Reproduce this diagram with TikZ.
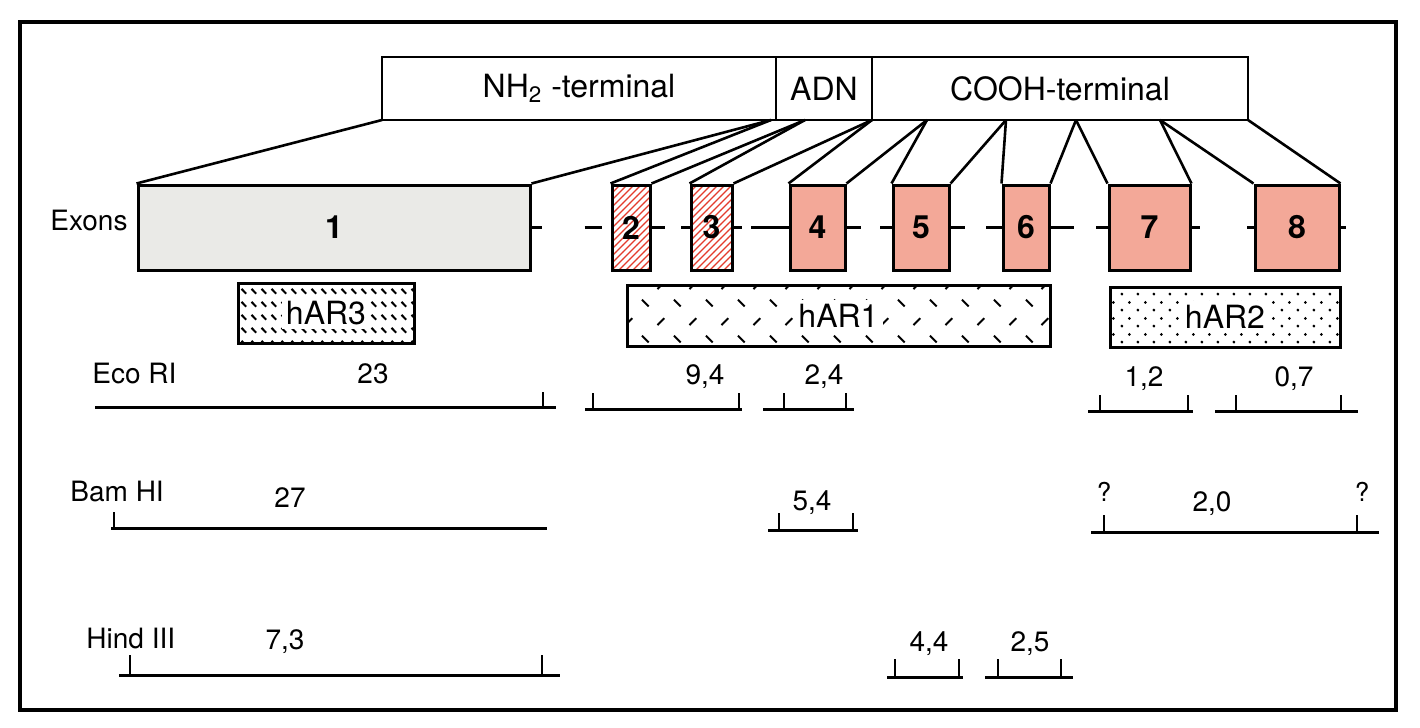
\documentclass[tikz,border=0pt]{standalone}
\usepackage{fontspec}
\setmainfont{TeX Gyre Heros}
\usepackage{tikz}
\usetikzlibrary{positioning, patterns}

\definecolor{exonred}{RGB}{243,168,152}
\definecolor{exongrey}{RGB}{234,234,231}
\definecolor{hatchred}{RGB}{228,60,45}

\pgfdeclarepatternformonly{exonhatch}{\pgfqpoint{-1pt}{-1pt}}{\pgfqpoint{4.5pt}{4.5pt}}{\pgfqpoint{3.5pt}{3.5pt}}{
  \pgfsetlinewidth{0.6pt}
  \pgfpathmoveto{\pgfqpoint{0pt}{0pt}}\pgfpathlineto{\pgfqpoint{3.6pt}{3.6pt}}
  \pgfusepath{stroke}}
\pgfdeclarepatternformonly{hardash}{\pgfpointorigin}{\pgfqpoint{5pt}{6.5pt}}{\pgfqpoint{5pt}{6.5pt}}{
  \pgfsetlinewidth{1.1pt}
  \pgfpathmoveto{\pgfqpoint{0.8pt}{5.4pt}}\pgfpathlineto{\pgfqpoint{3.4pt}{2.8pt}}
  \pgfusepath{stroke}}
\pgfdeclarepatternformonly{harone}{\pgfpointorigin}{\pgfqpoint{16pt}{18pt}}{\pgfqpoint{16pt}{18pt}}{
  \pgfsetlinewidth{1pt}
  \pgfpathmoveto{\pgfqpoint{1pt}{16.5pt}}\pgfpathlineto{\pgfqpoint{4.5pt}{13pt}}
  \pgfpathmoveto{\pgfqpoint{9pt}{3.5pt}}\pgfpathlineto{\pgfqpoint{12.5pt}{7pt}}
  \pgfusepath{stroke}}
\pgfdeclarepatternformonly{hartwo}{\pgfpointorigin}{\pgfqpoint{8pt}{8pt}}{\pgfqpoint{8pt}{8pt}}{
  \pgfpathcircle{\pgfqpoint{1pt}{1pt}}{0.8pt}
  \pgfpathcircle{\pgfqpoint{5pt}{5pt}}{0.8pt}
  \pgfusepath{fill}}

\tikzset{
  bar/.style={draw, line width=1.4pt, minimum height=31.5pt, inner sep=0pt, outer sep=0pt,
    font=\fontsize{16}{18}\selectfont},
  exon/.style={draw, line width=1.5pt, minimum height=42.5pt, inner sep=0pt,
    font=\fontsize{16}{18}\selectfont\bfseries},
  probe/.style={draw, line width=1.5pt, minimum height=30pt, inner sep=0pt, preaction={fill=white}},
  probelab/.style={fill=white, inner sep=2pt, font=\fontsize{16}{18}\selectfont},
  maplab/.style={anchor=base west, inner sep=0pt, font=\fontsize{14}{16}\selectfont},
  fraglab/.style={anchor=base, inner sep=0pt, font=\fontsize{14}{16}\selectfont},
  link/.style={line width=1.3pt},
  intron/.style={line width=1.3pt},
  frag/.style={line width=1.5pt},
  cut/.style={line width=1pt}
}

\begin{document}
\begin{tikzpicture}[x=0.5pt, y=-0.5pt]
  \useasboundingbox (0,0) rectangle (1420,728);
  \draw[line width=1.6pt] (20,22) rectangle (1396,710);

  % protein
  \node[bar, minimum width=197pt] (nh2) at (579,88.5) {NH\textsubscript{2} -terminal};
  \node[bar, minimum width=48pt, right=0pt of nh2] (adn) {ADN};
  \node[bar, minimum width=188pt, right=0pt of adn] (cooh) {COOH-terminal};

  % exons
  \node[maplab] (exlab) at (50,230) {Exons};
  \node[exon, fill=exongrey, minimum width=196pt] (e1) at (334,227.5) {1};
  \node[exon, preaction={fill=white}, pattern=exonhatch, pattern color=hatchred, minimum width=19pt] (e2) at (631,227.5) {2};
  \node[exon, preaction={fill=white}, pattern=exonhatch, pattern color=hatchred, minimum width=20.5pt] (e3) at (711.5,227.5) {3};
  \node[exon, fill=exonred, minimum width=27.5pt] (e4) at (817.5,227.5) {4};
  \node[exon, fill=exonred, minimum width=28pt] (e5) at (921,227.5) {5};
  \node[exon, fill=exonred, minimum width=23pt] (e6) at (1026,227.5) {6};
  \node[exon, fill=exonred, minimum width=40.5pt] (e7) at (1149.5,227.5) {7};
  \node[exon, fill=exonred, minimum width=42pt] (e8) at (1297,227.5) {8};

  \draw[intron] (e1.east) -- ++(10,0) (e2.west) ++(-26,0) -- ++(17,0);
  \draw[intron] (e2.east) -- ++(13,0) (e3.west) -- ++(-9,0);
  \draw[intron] (e3.east) -- ++(8,0) (e4.west) -- ++(-38,0);
  \draw[intron] (e4.east) -- ++(14,0) (e5.west) -- ++(-12,0);
  \draw[intron] (e5.east) -- ++(14,0) (e6.west) -- ++(-16,0);
  \draw[intron] (e6.east) -- ++(23,0) (e7.west) -- ++(-12,0);
  \draw[intron] (e7.east) -- ++(8,0) (e8.west) -- ++(-7,0);
  \draw[intron] (e8.east) -- ++(5,0);

  \coordinate (j1) at (771,120);
  \coordinate (j2) at (805,120);
  \coordinate (j4) at (927,120);
  \coordinate (j5) at (1006,120);
  \coordinate (j6) at (1076,120);
  \coordinate (j7) at (1160,120);
  \foreach \a/\b in {e1.north west/nh2.south west, e1.north east/j1, e2.north west/j1,
      e2.north east/j2, e3.north west/j2, e3.north east/adn.south east, e4.north west/adn.south east,
      e4.north east/j4, e5.north west/j4, e5.north east/j5, e6.north west/j5,
      e6.north east/j6, e7.north west/j6, e7.north east/j7, e8.north west/j7, e8.north east/cooh.south east}
    \draw[link] (\a) -- (\b);

  % probes
  \node[probe, pattern=hardash, minimum width=88pt] (har3) at (326,313) {};
  \node[probelab] at (har3) {hAR3};
  \node[probe, pattern=harone, minimum width=211.5pt, minimum height=30.5pt] (har1) at (838.5,315.5) {};
  \node[probelab] at (har1) {hAR1};
  \node[probe, pattern=hartwo, minimum width=115pt] (har2) at (1225,317) {};
  \node[probelab] at (har2) {hAR2};

  % restriction maps
  \node[maplab] (eco) at (92,383) {Eco RI};
  \node[fraglab] (eA) at (373,383) {23};
  \node[fraglab] (eB) at (705,384) {9,4};
  \node[fraglab] (eC) at (824,384) {2,4};
  \node[fraglab] (eD) at (1144,386) {1,2};
  \node[fraglab] (eE) at (1294,386) {0,7};

  \node[maplab] (bam) at (70,501) {Bam HI};
  \node[fraglab] (bA) at (290,507) {27};
  \node[fraglab] (bB) at (812,510) {5,4};
  \node[fraglab] (bC) at (1212,511) {2,0};
  \node[fraglab, font=\fontsize{13}{15}\selectfont] (q1) at (1104,501) {?};
  \node[fraglab, font=\fontsize{13}{15}\selectfont] (q2) at (1362,501) {?};

  \node[maplab] (hind) at (86,648) {Hind III};
  \node[fraglab] (hA) at (285,649) {7,3};
  \node[fraglab] (hB) at (929,651) {4,4};
  \node[fraglab] (hC) at (1030,651) {2,5};

  \foreach \xa/\xb/\ta/\tb/\y/\h in {95/556/543/543/407/15, 585/742/593/739/409/16, 763/854/784/846/409/16,
      1088/1193/1100/1188/411/16, 1215/1358/1236/1341/411/16,
      111/547/114/114/528/16, 768/858/779/853/530/17, 1091/1379/1104/1357/532/17,
      119/560/130/542/675/20, 887/963/895/959/677/18, 985/1073/998/1061/677/18} {
    \draw[frag] (\xa,\y) -- (\xb,\y);
    \draw[cut] (\ta,\y) -- ++(0,-\h) (\tb,\y) -- ++(0,-\h);
  }
\end{tikzpicture}
\end{document}
